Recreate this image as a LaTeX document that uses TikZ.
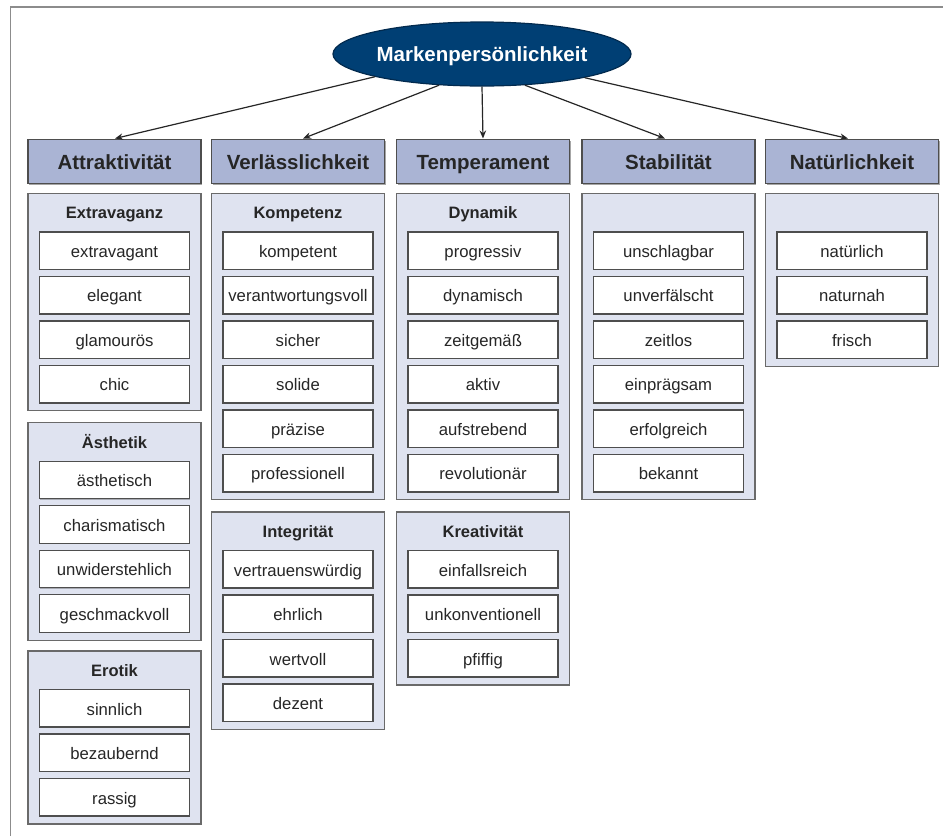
\documentclass[tikz,border=0pt]{standalone}
\usepackage{fontspec}
\setmainfont{Liberation Sans}
\usetikzlibrary{shapes.geometric,shadows,arrows.meta}

\definecolor{navy}{HTML}{003F74}
\definecolor{navyline}{HTML}{022A4E}
\definecolor{hdrfill}{HTML}{AAB4D4}
\definecolor{grpfill}{HTML}{DFE3F0}
\definecolor{boxline}{HTML}{4E4E4E}
\definecolor{grpline}{HTML}{6A6A6A}
\definecolor{txt}{HTML}{262626}
\definecolor{framecol}{HTML}{8C8C8C}

\tikzset{
  root/.style={ellipse, draw=navyline, line width=1.2pt, fill=navy,
    minimum width=294, minimum height=64, inner sep=0pt,
    text height=15.4pt, text depth=0pt,
    text=white, font=\fontsize{20.5}{24}\selectfont\bfseries},
  hdr/.style={rectangle, draw=boxline, line width=1.6pt, fill=hdrfill,
    minimum width=173, minimum height=44, inner sep=0pt,
    text height=17.2pt, text depth=0pt,
    text=txt, font=\fontsize{20.5}{24}\selectfont\bfseries,
    drop shadow={shadow xshift=1.2pt, shadow yshift=-1.4pt, fill=black, opacity=0.35}},
  grp/.style={rectangle, draw=grpline, line width=1.3pt, fill=grpfill,
    minimum width=173, inner sep=0pt},
  grptitle/.style={inner sep=0pt, anchor=base, text=txt,
    font=\fontsize{16.5}{20}\selectfont\bfseries},
  itembox/.style={rectangle, draw=boxline, line width=1.4pt, fill=white,
    minimum width=150, minimum height=37.5, inner sep=0pt,
    text height=13.8pt, text depth=0pt,
    text=txt, font=\fontsize{16.7}{20}\selectfont,
    drop shadow={shadow xshift=0.8pt, shadow yshift=-0.9pt, fill=black, opacity=0.25}},
  link/.style={draw=txt, line width=1.2pt, -{Stealth[length=8pt,width=6.5pt]}},
  framestyle/.style={draw=framecol, line width=1.5pt}
}

% group box: #1 name, #2 left edge, #3 top edge, #4 title, #5 list of entries
\newcommand\attrgroup[5]{%
  \xdef\attrcount{0}%
  \foreach \t in {#5} {\xdef\attrcount{\the\numexpr\attrcount+1\relax}}%
  \node[grp, minimum height={39.5+44.5*\attrcount}] (#1)
    at ({#2+86.5},{#3+(39.5+44.5*\attrcount)/2}) {};
  \if\relax\detokenize{#4}\relax\else
    \node[grptitle] (#1-title) at ({#2+86.5},{#3+25.5}) {#4};
  \fi
  \foreach \t [count=\i] in {#5}
    \node[itembox] (#1-\i) at ({#2+86.5},{#3+57.25+(\i-1)*44.5}) {\t};
}

\begin{document}
\begin{tikzpicture}[x=1pt, y=-1pt]
  \useasboundingbox (0,0) rectangle (943,836);

  % outer frame (top and left only)
  \coordinate (frameBL) at (10.5,836);
  \coordinate (frameTL) at (10.5,7);
  \coordinate (frameTR) at (943,7);
  \draw[framestyle] (frameBL) -- (frameTL) -- (frameTR);

  % root
  \node[root] (root) at (482,54) {Markenpersönlichkeit};

  % dimensions
  \node[hdr] (h1) at (114.5,161.3) {Attraktivität};
  \node[hdr] (h2) at (298,161.3) {Verlässlichkeit};
  \node[hdr] (h3) at (483,161.3) {Temperament};
  \node[hdr] (h4) at (668.5,161.3) {Stabilität};
  \node[hdr] (h5) at (852,161.3) {Natürlichkeit};

  % connectors
  \draw[link] (root.192.5) -- ([xshift=0.5pt]h1.north);
  \draw[link] (root.216) -- ([xshift=5pt]h2.north);
  \draw[link] (root.270) -- (h3.north);
  \draw[link] (root.324) -- ([xshift=-3.5pt]h4.north);
  \draw[link] (root.347.5) -- ([xshift=-4pt]h5.north);

  % column 1
  \attrgroup{g11}{28}{193.3}{Extravaganz}{extravagant,elegant,glamourös,chic}
  \attrgroup{g12}{28}{422.7}{Ästhetik}{ästhetisch,charismatisch,unwiderstehlich,geschmackvoll}
  \attrgroup{g13}{28}{651}{Erotik}{sinnlich,bezaubernd,rassig}

  % column 2
  \attrgroup{g21}{211.5}{193.3}{Kompetenz}{kompetent,verantwortungsvoll,sicher,solide,präzise,professionell}
  \attrgroup{g22}{211.5}{512}{Integrität}{vertrauenswürdig,ehrlich,wertvoll,dezent}

  % column 3
  \attrgroup{g31}{396.5}{193.3}{Dynamik}{progressiv,dynamisch,zeitgemäß,aktiv,aufstrebend,revolutionär}
  \attrgroup{g32}{396.5}{512}{Kreativität}{einfallsreich,unkonventionell,pfiffig}

  % column 4
  \attrgroup{g41}{582}{193.3}{}{unschlagbar,unverfälscht,zeitlos,einprägsam,erfolgreich,bekannt}

  % column 5
  \attrgroup{g51}{765.5}{193.3}{}{natürlich,naturnah,frisch}
\end{tikzpicture}
\end{document}
